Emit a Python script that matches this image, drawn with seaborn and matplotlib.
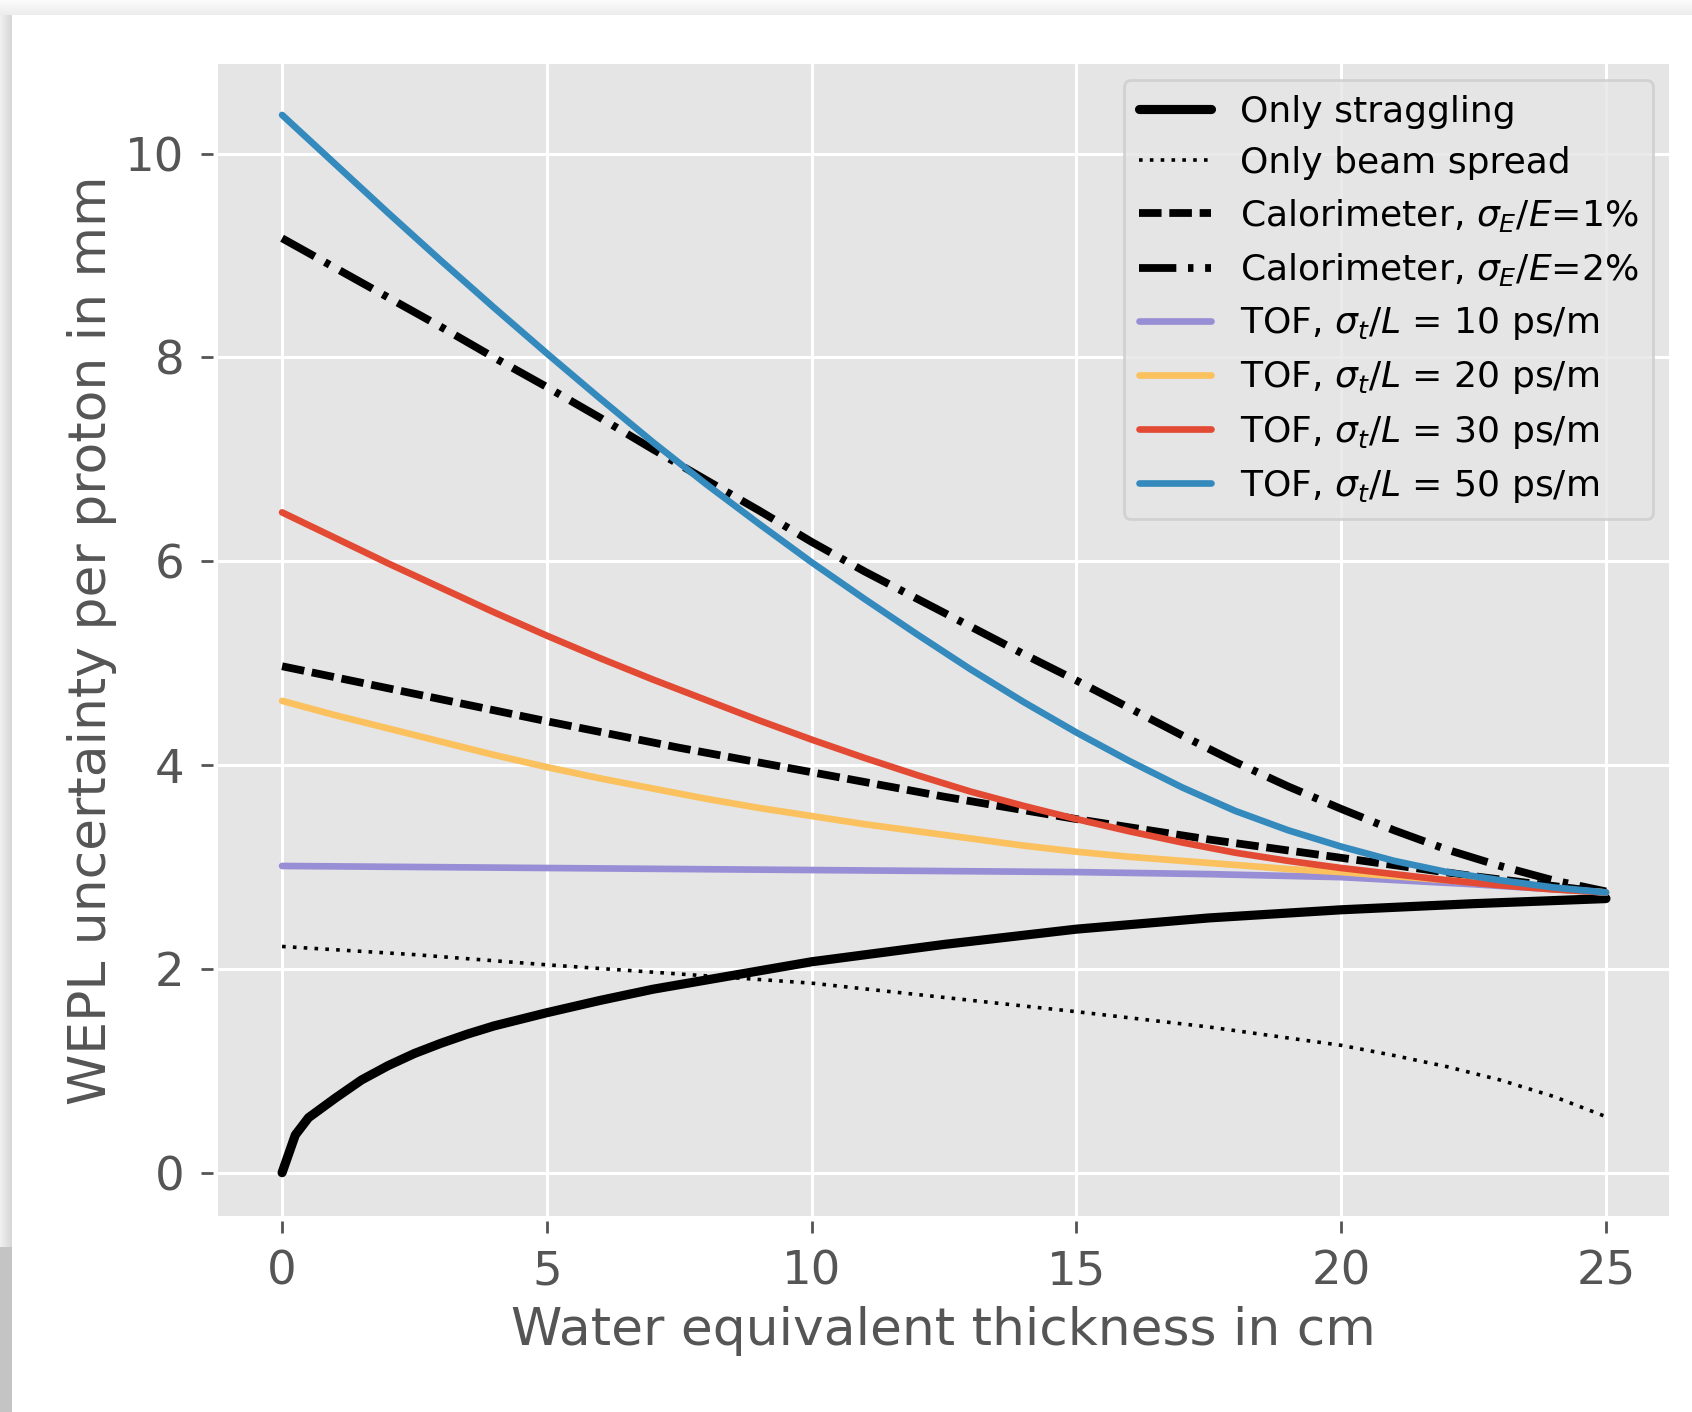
import numpy as np
import pandas as pd
import matplotlib
matplotlib.use("Agg")
import matplotlib.pyplot as plt
from matplotlib.patches import Rectangle
import seaborn as sns

# ---------------- data ----------------
x_strag = [0, 0.25, 0.5, 1, 1.5, 2, 2.5, 3, 3.5, 4, 5, 6, 7, 8, 9, 10,
           12.5, 15, 17.5, 20, 22.5, 25]
y_strag = [0.0, 0.37, 0.54, 0.73, 0.91, 1.05, 1.17, 1.27, 1.36, 1.44, 1.57, 1.69,
           1.80, 1.89, 1.98, 2.07, 2.24, 2.39, 2.50, 2.58, 2.64, 2.69]

x_int = list(range(0, 26))
x_c = [0, 2.5, 5, 7.5, 10, 12.5, 15, 17.5, 20, 22.5, 25]
x_beam = [0, 2.5, 5, 7.5, 10, 12.5, 15, 17.5, 20, 21, 22, 23, 24, 25]

y_beam = [2.22, 2.14, 2.04, 1.95, 1.86, 1.72, 1.58, 1.43, 1.25, 1.15, 1.04, 0.91,
          0.75, 0.55]
y_cal1 = [4.97, 4.70, 4.43, 4.17, 3.93, 3.69, 3.47, 3.27, 3.09, 2.91, 2.75]
y_tof10 = [3.01, 3.00, 2.99, 2.98, 2.97, 2.96, 2.95, 2.93, 2.90, 2.83, 2.75]

y_tof20 = [4.63, 4.49, 4.36, 4.23, 4.10, 3.98, 3.87, 3.77, 3.67, 3.58, 3.50,
           3.42, 3.35, 3.28, 3.21, 3.15, 3.10, 3.06, 3.02, 2.98, 2.95,
           2.91, 2.87, 2.83, 2.79, 2.75]
y_cal2 = [9.17, 8.88, 8.59, 8.30, 8.00, 7.71, 7.41, 7.10, 6.80, 6.50, 6.19,
          5.90, 5.63, 5.36, 5.09, 4.83, 4.56, 4.29, 4.03, 3.79, 3.57,
          3.36, 3.17, 3.01, 2.87, 2.76]
y_tof30 = [6.48, 6.23, 5.98, 5.74, 5.50, 5.27, 5.05, 4.84, 4.64, 4.44, 4.25,
           4.07, 3.90, 3.74, 3.60, 3.47, 3.35, 3.24, 3.14, 3.06, 2.99,
           2.93, 2.87, 2.82, 2.78, 2.75]
y_tof50 = [10.38, 9.90, 9.42, 8.95, 8.49, 8.04, 7.60, 7.17, 6.76, 6.37, 5.99,
           5.63, 5.28, 4.94, 4.62, 4.32, 4.04, 3.78, 3.55, 3.36, 3.20,
           3.06, 2.95, 2.87, 2.80, 2.75]

labels = ["Only straggling", "Only beam spread",
          r"Calorimeter, $\sigma_E/E$=1%", r"Calorimeter, $\sigma_E/E$=2%",
          r"TOF, $\sigma_t/L$ = 10 ps/m", r"TOF, $\sigma_t/L$ = 20 ps/m",
          r"TOF, $\sigma_t/L$ = 30 ps/m", r"TOF, $\sigma_t/L$ = 50 ps/m"]

xticks = [0, 5, 10, 15, 20, 25]
yticks = [0, 2, 4, 6, 8, 10]

# ---------------- style ----------------
sns.set_theme(style="darkgrid", rc={
    "axes.facecolor": "#E5E5E5",
    "grid.color": "white",
    "grid.linewidth": 1.1,
    "axes.edgecolor": "white",
})
plt.rcParams["font.family"] = ["DejaVu Sans"]
plt.rcParams["mathtext.fontset"] = "dejavusans"

W, H, DPI = 1692, 1412, 200
fig = plt.figure(figsize=(W / DPI, H / DPI), dpi=DPI)
fig.patch.set_facecolor("white")

# screenshot-like shadow bands on the left and top edges
for i in range(12):
    c = 0.94 - 0.10 * (i / 11)
    fig.add_artist(Rectangle((i / W, 0), 1 / W, 1 - 15 / H, transform=fig.transFigure,
                             color=(c, c, c), lw=0, zorder=0))
for i in range(15):
    c = 0.985 - 0.06 * (i / 14)
    fig.add_artist(Rectangle((0, 1 - (i + 1) / H), 1, 1 / H, transform=fig.transFigure,
                             color=(c, c, c), lw=0, zorder=0))
fig.add_artist(Rectangle((0, 0), 12 / W, (H - 1247) / H, transform=fig.transFigure,
                         color="#c4c4c4", lw=0, zorder=0))

ax = fig.add_axes([218 / W, 1 - 1216 / H, (1669 - 218) / W, (1216 - 64) / H])

sns.lineplot(x=x_strag, y=y_strag, ax=ax, color="black", lw=3.3, label=labels[0])
sns.lineplot(x=x_beam, y=y_beam, ax=ax, color="black", lw=1.3,
             linestyle=(0, (1, 2)), label=labels[1])
sns.lineplot(x=x_c, y=y_cal1, ax=ax, color="black", lw=2.8,
             linestyle=(0, (2.9, 1.0)), label=labels[2])
sns.lineplot(x=x_int, y=y_cal2, ax=ax, color="black", lw=2.8,
             linestyle=(0, (4.8, 1.5, 0.7, 1.5)), label=labels[3])
sns.lineplot(x=x_c, y=y_tof10, ax=ax, color="#988ED5", lw=2.4, label=labels[4])
sns.lineplot(x=x_int, y=y_tof20, ax=ax, color="#FBC15E", lw=2.4, label=labels[5])
sns.lineplot(x=x_int, y=y_tof30, ax=ax, color="#E24A33", lw=2.4, label=labels[6])
sns.lineplot(x=x_int, y=y_tof50, ax=ax, color="#348ABD", lw=2.4, label=labels[7])

ax.set_xlim(-1.21, 26.19)
ax.set_ylim(-0.425, 10.88)
ax.set_xticks(xticks)
ax.set_yticks(yticks)
for s in ax.spines.values():
    s.set_position(("outward", 1.8))
    s.set_visible(False)
ax.tick_params(axis="both", which="major", direction="out", length=4.3, width=1.0,
               color="#555555", labelcolor="#555555", labelsize=16.8, pad=6.0,
               bottom=True, left=True)

ax.set_xlabel("Water equivalent thickness in cm", fontsize=18.7, color="#555555",
              labelpad=4)
ax.set_ylabel("WEPL uncertainty per proton in mm", fontsize=18.7, color="#555555",
              labelpad=3)

leg = ax.legend(loc="upper right", borderaxespad=0.45, labelspacing=0.475,
                fontsize=13.0, frameon=True, fancybox=True, framealpha=0.8,
                facecolor="#E5E5E5", edgecolor="#CCCCCC")
for t in leg.get_texts():
    t.set_color("black")

fig.savefig("out.png", dpi=DPI)
